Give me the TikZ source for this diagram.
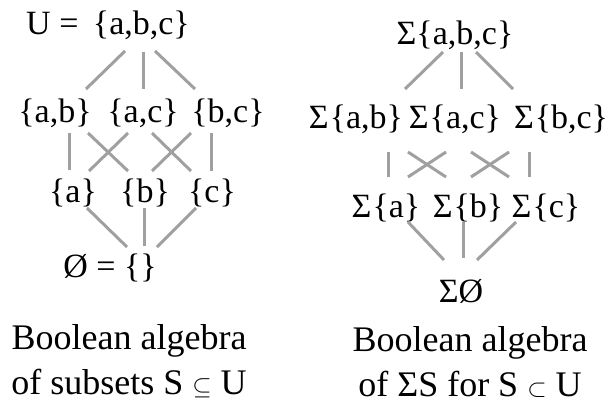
\documentclass[tikz,border=0pt]{standalone}
\usepackage{fontspec}
\setmainfont{Liberation Serif}
\definecolor{edgegray}{RGB}{160,160,160}
\tikzset{
  setlabel/.style={inner sep=0pt, anchor=base, font=\fontsize{34}{40}\selectfont},
  caption/.style={inner sep=0pt, anchor=base, align=center, font=\fontsize{36}{45}\selectfont},
  edge/.style={draw=edgegray, line width=3pt}
}
\begin{document}
\begin{tikzpicture}[x=1pt,y=-1pt]
\useasboundingbox (0,0) rectangle (612,404);

% subsets of U
\node[setlabel] (U)  at (108,35)  {U = \kern6pt\{a,b,c\}};
\node[setlabel] (ab) at (55,122)  {\{a,b\}};
\node[setlabel] (ac) at (143,122) {\{a,c\}};
\node[setlabel] (bc) at (228,122) {\{b,c\}};
\node[setlabel] (a)  at (73,202)  {\{a\}};
\node[setlabel] (b)  at (145,202) {\{b\}};
\node[setlabel] (c)  at (212,202) {\{c\}};
\node[setlabel] (E)  at (110,277) {Ø = \{\}};

\draw[edge] ([shift={(17,16)}]U.base) -- ([shift={(31,-33)}]ab.base);
\draw[edge] ([shift={(35,17)}]U.base) -- ([shift={(0,-33)}]ac.base);
\draw[edge] ([shift={(47,16)}]U.base) -- ([shift={(-33,-33)}]bc.base);
\draw[edge] ([shift={(14,11)}]ab.base) -- ([shift={(-4,-32)}]a.base);
\draw[edge] ([shift={(33,11)}]ab.base) -- ([shift={(-17,-31)}]b.base);
\draw[edge] ([shift={(-15,11)}]ac.base) -- ([shift={(16,-31)}]a.base);
\draw[edge] ([shift={(9,11)}]ac.base) -- ([shift={(-21,-31)}]c.base);
\draw[edge] ([shift={(-37,11)}]bc.base) -- ([shift={(7,-31)}]b.base);
\draw[edge] ([shift={(-17,11)}]bc.base) -- ([shift={(-1,-31)}]c.base);
\draw[edge] ([shift={(14,6)}]a.base) -- ([shift={(17,-30)}]E.base);
\draw[edge] ([shift={(-1,6)}]b.base) -- ([shift={(34,-31)}]E.base);
\draw[edge] ([shift={(-16,6)}]c.base) -- ([shift={(47,-30)}]E.base);

% sums
\node[setlabel] (sU)  at (455,45)  {Σ\{a,b,c\}};
\node[setlabel] (sab) at (356,128) {Σ\kern1pt\{a,b\}};
\node[setlabel] (sac) at (455,128) {Σ\kern1pt\{a,c\}};
\node[setlabel] (sbc) at (561,128) {Σ\kern1pt\{b,c\}};
\node[setlabel] (sa)  at (386,217) {Σ\kern1pt\{a\}};
\node[setlabel] (sb)  at (468,217) {Σ\kern1pt\{b\}};
\node[setlabel] (sc)  at (546,217) {Σ\kern1pt\{c\}};
\node[setlabel] (sE)  at (461,302) {ΣØ};

\draw[edge] ([shift={(-12,7)}]sU.base) -- ([shift={(49,-39)}]sab.base);
\draw[edge] ([shift={(6,7)}]sU.base) -- ([shift={(6,-39)}]sac.base);
\draw[edge] ([shift={(21,7)}]sU.base) -- ([shift={(-48,-39)}]sbc.base);
\draw[edge] ([shift={(32,24)}]sab.base) -- ([shift={(2,-40)}]sa.base);
\draw[edge] ([shift={(52,24)}]sab.base) -- ([shift={(-22,-40)}]sb.base);
\draw[edge] ([shift={(-9,24)}]sac.base) -- ([shift={(22,-40)}]sa.base);
\draw[edge] ([shift={(16,24)}]sac.base) -- ([shift={(-37,-40)}]sc.base);
\draw[edge] ([shift={(-52,24)}]sbc.base) -- ([shift={(3,-40)}]sb.base);
\draw[edge] ([shift={(-32,24)}]sbc.base) -- ([shift={(-17,-40)}]sc.base);
\draw[edge] ([shift={(22,5)}]sa.base) -- ([shift={(-17,-42)}]sE.base);
\draw[edge] ([shift={(-5,5)}]sb.base) -- ([shift={(2,-44)}]sE.base);
\draw[edge] ([shift={(-30,5)}]sc.base) -- ([shift={(16,-42)}]sE.base);

% captions
\node[caption] (capL) at (129,394) {Boolean algebra\\of subsets S $\subseteq$ U};
\node[caption] (capR) at (470,396) {Boolean algebra\\of ΣS for S $\subset$ U};
\end{tikzpicture}
\end{document}
